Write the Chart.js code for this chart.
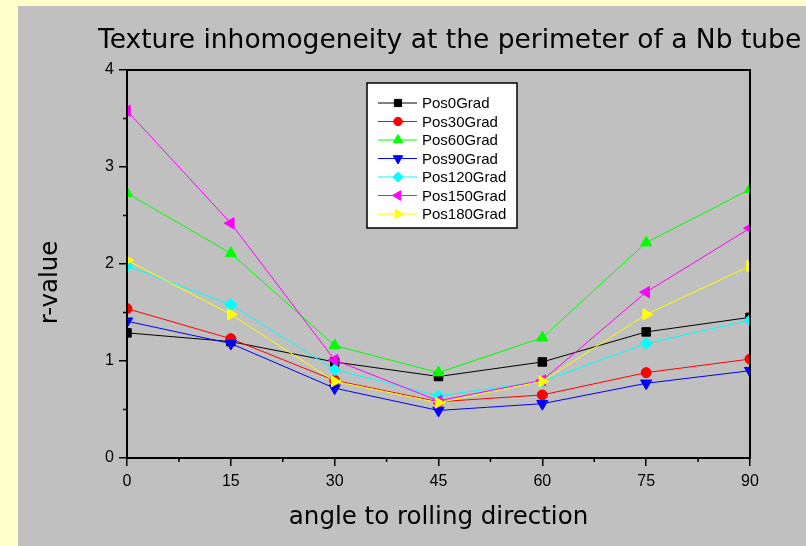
<!DOCTYPE html>
<html>
<head>
<meta charset="utf-8">
<script src="https://cdn.jsdelivr.net/npm/chart.js@4"></script>
<style>
  body { margin: 0; background: #ffffcc; }
  #wrap { width: 806px; height: 546px; }
</style>
</head>
<body>
<div id="wrap"><canvas id="chart" width="806" height="546"></canvas></div>
<script>
const chartTitle = "Texture inhomogeneity at the perimeter of a Nb tube";
const xTitle = "angle to rolling direction";
const yTitle = "r-value";

const angles = [0, 15, 30, 45, 60, 75, 90];
const seriesNames = ["Pos0Grad", "Pos30Grad", "Pos60Grad", "Pos90Grad", "Pos120Grad", "Pos150Grad", "Pos180Grad"];
const pos0 = [1.29, 1.2, 0.99, 0.84, 0.99, 1.3, 1.45];
const pos30 = [1.54, 1.23, 0.8, 0.58, 0.65, 0.88, 1.02];
const pos60 = [2.73, 2.11, 1.16, 0.88, 1.24, 2.22, 2.77];
const pos90 = [1.41, 1.18, 0.72, 0.49, 0.56, 0.77, 0.9];
const pos120 = [1.98, 1.58, 0.91, 0.64, 0.79, 1.18, 1.42];
const pos150 = [3.58, 2.42, 1.01, 0.59, 0.8, 1.71, 2.37];
const pos180 = [2.04, 1.48, 0.79, 0.57, 0.79, 1.48, 1.98];
const seriesValues = [pos0, pos30, pos60, pos90, pos120, pos150, pos180];

const colors = ["#000000", "#ff0000", "#00ff00", "#0000ff", "#00ffff", "#ff00ff", "#ffff00"];
const styles = [
  { pointStyle: "rect", rotation: 0, radius: 6 },
  { pointStyle: "circle", rotation: 0, radius: 5 },
  { pointStyle: "triangle", rotation: 0, radius: 6.5 },
  { pointStyle: "triangle", rotation: 180, radius: 6.5 },
  { pointStyle: "rectRot", rotation: 0, radius: 6 },
  { pointStyle: "triangle", rotation: -90, radius: 6.5 },
  { pointStyle: "triangle", rotation: 90, radius: 6.5 },
];

const datasets = seriesNames.map((name, i) => ({
  label: name,
  data: angles.map((a, j) => ({ x: a, y: seriesValues[i][j] })),
  borderColor: colors[i],
  backgroundColor: colors[i],
  borderWidth: 1,
  pointStyle: styles[i].pointStyle,
  pointRotation: styles[i].rotation,
  pointRadius: styles[i].radius,
  pointBorderWidth: 1,
  tension: 0,
  clip: 0,
  order: seriesNames.length - i,
}));

// background, frame, minor ticks, title and legend box
const decor = {
  id: "decor",
  beforeDraw(chart) {
    const ctx = chart.ctx;
    ctx.save();
    ctx.fillStyle = "#ffffcc";
    ctx.fillRect(0, 0, chart.width, chart.height);
    ctx.fillStyle = "#c0c0c0";
    ctx.fillRect(18, 6, chart.width - 18, chart.height - 6);
    ctx.restore();
  },
  afterDatasetsDraw(chart) {
    const ctx = chart.ctx;
    const a = chart.chartArea;
    const xs = chart.scales.x;
    const ys = chart.scales.y;
    ctx.save();
    ctx.strokeStyle = "#000";
    ctx.lineWidth = 2;
    ctx.strokeRect(a.left, a.top, a.right - a.left, a.bottom - a.top);

    // minor ticks
    ctx.lineWidth = 1.5;
    ctx.beginPath();
    for (let v = 7.5; v < 90; v += 15) {
      const px = xs.getPixelForValue(v);
      ctx.moveTo(px, a.bottom);
      ctx.lineTo(px, a.bottom + 4);
    }
    for (let v = 0.5; v < 4; v += 1) {
      const py = ys.getPixelForValue(v);
      ctx.moveTo(a.left, py);
      ctx.lineTo(a.left - 4, py);
    }
    ctx.stroke();

    // title
    ctx.fillStyle = "#000";
    ctx.font = "26.5px 'DejaVu Sans'";
    ctx.textAlign = "left";
    ctx.textBaseline = "alphabetic";
    ctx.fillText(chartTitle, 98, 48);

    // y axis title
    ctx.save();
    ctx.font = "24.5px 'DejaVu Sans'";
    ctx.translate(57, 282.5);
    ctx.rotate(-Math.PI / 2);
    ctx.textAlign = "center";
    ctx.fillText(yTitle, 0, 0);
    ctx.restore();

    // legend
    ctx.fillStyle = "#fff";
    ctx.fillRect(367, 83, 150, 145);
    ctx.lineWidth = 1.5;
    ctx.strokeRect(367, 83, 150, 145);
    ctx.font = "15px 'Liberation Sans', Arial, sans-serif";
    ctx.textBaseline = "middle";
    chart.data.datasets.forEach((ds, i) => {
      const y = 103 + i * 18.5;
      ctx.strokeStyle = ds.borderColor;
      ctx.lineWidth = 1;
      ctx.beginPath();
      ctx.moveTo(378, y);
      ctx.lineTo(417, y);
      ctx.stroke();
      ctx.fillStyle = ds.backgroundColor;
      Chart.helpers.drawPoint(ctx, {
        pointStyle: ds.pointStyle,
        rotation: ds.pointRotation,
        radius: ds.pointRadius * 0.85,
        borderWidth: 1,
      }, 398, y);
      ctx.fillStyle = "#000";
      ctx.textAlign = "left";
      ctx.fillText(ds.label, 422, y + 1);
    });
    ctx.restore();
  },
};

new Chart(document.getElementById("chart"), {
  type: "line",
  data: { datasets: datasets },
  options: {
    responsive: false,
    animation: false,
    layout: { padding: { left: 0, right: 56, top: 70, bottom: 0 } },
    scales: {
      x: {
        type: "linear",
        min: 0,
        max: 90,
        afterFit: (s) => { s.height = 88; },
        grid: { drawOnChartArea: false, drawTicks: true, tickLength: 8, color: "#000", lineWidth: 1.5 },
        border: { display: false },
        ticks: {
          stepSize: 15,
          padding: 6,
          color: "#000",
          font: { family: "'Liberation Sans', Arial, sans-serif", size: 16 },
          maxRotation: 0,
        },
        title: {
          display: true,
          text: xTitle,
          color: "#000",
          font: { family: "'DejaVu Sans'", size: 24.5 },
          padding: { top: 0, bottom: 14 },
        },
      },
      y: {
        type: "linear",
        min: 0,
        max: 4,
        afterFit: (s) => { s.width = 127; },
        grid: { drawOnChartArea: false, drawTicks: true, tickLength: 8, color: "#000", lineWidth: 1.5 },
        border: { display: false },
        ticks: {
          stepSize: 1,
          padding: 5,
          color: "#000",
          font: { family: "'Liberation Sans', Arial, sans-serif", size: 16 },
        },
      },
    },
    plugins: {
      legend: { display: false },
      title: { display: false },
      tooltip: { enabled: false },
    },
  },
  plugins: [decor],
});
</script>
</body>
</html>
